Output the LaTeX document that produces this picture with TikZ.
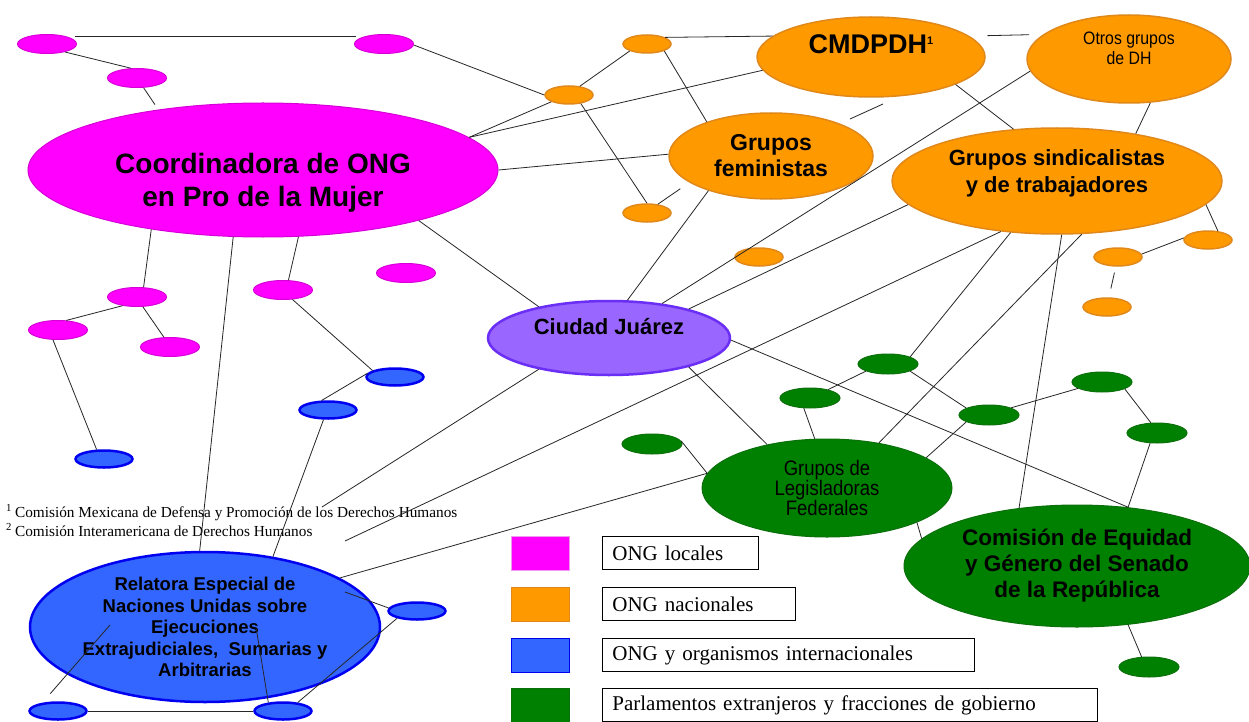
\documentclass[tikz,border=0pt]{standalone}
\usepackage{fontspec}
\setmainfont{Liberation Serif}
\setsansfont{Liberation Sans}
\newfontfamily\narrowfont[FakeStretch=0.88]{Liberation Sans}
\usetikzlibrary{shapes.geometric}
\begin{document}
\begin{tikzpicture}[x=1pt, y=-1pt, every node/.style={inner sep=0pt},
    loc/.style={ellipse, draw=locline, fill=loccol, line width=1pt},
    nac/.style={ellipse, draw=nacline, fill=naccol, line width=1.5pt},
    intl/.style={ellipse, draw=intline, fill=intcol, line width=2.5pt},
    parl/.style={ellipse, draw=parlline, fill=parlcol, line width=1pt},
    locsm/.style={loc, minimum width=59pt, minimum height=19pt},
    nacsm/.style={nac, minimum width=48pt, minimum height=18pt},
    intsm/.style={intl, minimum width=57pt, minimum height=17pt},
    parlsm/.style={parl, minimum width=60pt, minimum height=20pt},
    boldtxt/.style={font=\sffamily\bfseries, align=center},
    thintxt/.style={font=\narrowfont, align=center},
    fnote/.style={anchor=base west, font=\fontsize{15.3}{18}\selectfont},
    key/.style={draw, line width=0.8pt, minimum width=58pt, minimum height=34pt},
    keybox/.style={draw, line width=0.8pt, fill=white, anchor=west, minimum height=33pt,
      inner xsep=10pt, align=left, font=\fontsize{21}{24}\selectfont}]
  \definecolor{loccol}{HTML}{FF00FF}
  \definecolor{locline}{HTML}{D600D6}
  \definecolor{naccol}{HTML}{FF9900}
  \definecolor{nacline}{HTML}{E0881A}
  \definecolor{intcol}{HTML}{3366FF}
  \definecolor{intline}{HTML}{0000F0}
  \definecolor{cjcol}{HTML}{9966FF}
  \definecolor{cjline}{HTML}{6A2EF5}
  \definecolor{parlcol}{HTML}{008000}
  \definecolor{parlline}{HTML}{0B700B}
  \useasboundingbox[fill=white] (0,0) rectangle (1249,722);

  % ONG locales
  \node[locsm] (m1) at (47,44) {};
  \node[locsm] (m2) at (384,44) {};
  \node[locsm] (m3) at (137,78) {};
  \node[locsm] (m4) at (137,297) {};
  \node[locsm] (m5) at (58,330) {};
  \node[locsm] (m6) at (170,347) {};
  \node[locsm] (m7) at (283,290) {};
  \node[locsm] (m8) at (406,273) {};
  \node[loc, minimum width=470pt, minimum height=134pt] (coord) at (263,170) {};
  \node[boldtxt, font=\sffamily\bfseries\fontsize{28}{33}\selectfont, yshift=-13pt] (coord-t) at (coord)
    {Coordinadora de ONG\\en Pro de la Mujer};

  % ONG nacionales
  \node[nacsm] (o1) at (647,44) {};
  \node[nacsm] (o2) at (569,95) {};
  \node[nacsm] (o3) at (647,213) {};
  \node[nacsm] (o4) at (759,257) {};
  \node[nacsm] (o5) at (1208,240) {};
  \node[nacsm] (o6) at (1118,257) {};
  \node[nacsm] (o7) at (1107,307) {};
  \node[nac, minimum width=228pt, minimum height=80pt] (cmd) at (871,57) {};
  \node[boldtxt, font=\sffamily\bfseries\fontsize{27}{30}\selectfont, yshift=13pt] (cmd-t) at (cmd)
    {CMDPDH\raisebox{9pt}{\fontsize{11}{11}\selectfont 1}};
  \node[nac, minimum width=204pt, minimum height=88pt] (otros) at (1129,59) {};
  \node[thintxt, font=\narrowfont\fontsize{18}{20}\selectfont, yshift=11pt] (otros-t) at (otros)
    {Otros grupos\\de DH};
  \node[nac, minimum width=204pt, minimum height=86pt] (fem) at (771,156) {};
  \node[boldtxt, font=\sffamily\bfseries\fontsize{23}{26}\selectfont] (fem-t) at (fem)
    {Grupos\\feministas};
  \node[nac, minimum width=330pt, minimum height=106pt] (sind) at (1057,181) {};
  \node[boldtxt, font=\sffamily\bfseries\fontsize{22}{27}\selectfont, yshift=8pt] (sind-t) at (sind)
    {Grupos sindicalistas\\y de trabajadores};

  % Ciudad Juarez
  \node[ellipse, draw=cjline, fill=cjcol, line width=2.5pt, minimum width=242pt, minimum height=74pt] (cj) at (609,338) {};
  \node[boldtxt, font=\sffamily\bfseries\fontsize{22}{26}\selectfont, yshift=11pt] (cj-t) at (cj)
    {Ciudad Juárez};

  % ONG y organismos internacionales
  \node[intsm] (b1) at (104,459) {};
  \node[intsm] (b2) at (395,377) {};
  \node[intsm] (b3) at (328,410) {};
  \node[intsm] (b4) at (417,611) {};
  \node[intsm] (b5) at (58,711) {};
  \node[intsm] (b6) at (283,711) {};
  \node[intl, minimum width=350pt, minimum height=150pt] (rel) at (205,627) {};
  \node[boldtxt, font=\sffamily\bfseries\fontsize{18.5}{21.5}\selectfont] (rel-t) at (rel)
    {Relatora Especial de\\Naciones Unidas sobre\\Ejecuciones\\Extrajudiciales,\ \ Sumarias y\\Arbitrarias};

  % Parlamentos
  \node[parlsm] (g1) at (888,364) {};
  \node[parlsm] (g2) at (810,398) {};
  \node[parlsm] (g3) at (652,444) {};
  \node[parlsm] (g4) at (989,415) {};
  \node[parlsm] (g5) at (1102,382) {};
  \node[parlsm] (g6) at (1157,433) {};
  \node[parlsm] (g7) at (1149,667) {};
  \node[parl, minimum width=250pt, minimum height=98pt] (legis) at (827,488) {};
  \node[thintxt, font=\narrowfont\fontsize{21}{20}\selectfont] (legis-t) at (legis)
    {Grupos de\\Legisladoras\\Federales};
  \node[parl, minimum width=346pt, minimum height=122pt] (com) at (1077,566) {};
  \node[boldtxt, font=\sffamily\bfseries\fontsize{22.5}{26}\selectfont] (com-t) at (com)
    {Comisión de Equidad\\y Género del Senado\\de la República};

  % notas
  \node[fnote] (fn1) at (6,517) {\textsuperscript{1}\hspace{3pt}Comisión Mexicana de Defensa y Promoción de los Derechos Humanos};
  \node[fnote] (fn2) at (6,536) {\textsuperscript{2}\hspace{3pt}Comisión Interamericana de Derechos Humanos};

  % clave
  \node[key, fill=loccol, draw=locline!40] (k1) at (540,553) {};
  \node[key, fill=naccol, draw=nacline] (k2) at (540,604) {};
  \node[key, fill=intcol, draw=intline] (k3) at (540,655) {};
  \node[key, fill=parlcol, draw=parlline] (k4) at (540,705) {};
  \node[keybox, text width=136pt] (k1-t) at (602,553) {ONG locales};
  \node[keybox, text width=173pt] (k2-t) at (602,604) {ONG nacionales};
  \node[keybox, text width=352pt] (k3-t) at (602,655) {ONG y organismos internacionales};
  \node[keybox, text width=475pt] (k4-t) at (602,705) {Parlamentos extranjeros y fracciones de gobierno};

  \coordinate (fc1) at (322,507);
  \coordinate (fc2) at (345,541);
  \coordinate (fa) at (850,119);
  \coordinate (fb) at (883,104);
  \coordinate (r1) at (345,592);
  \coordinate (r2) at (256,627);
  \coordinate (r3) at (110,625);

  \begin{scope}[black!85, line width=0.8pt]
    \draw[shorten <=10pt, shorten >=10pt] (m1.24) -- (m2.156);
    \draw (m1.-24) -- (m3.122);
    \draw[shorten >=6pt] (m3.-56) -- (coord.150);
    \draw (m2.-2) -- (o2.180);
    \draw (coord.9) -- (o2.201);
    \draw (coord.9) -- (cmd.187);
    \draw (coord.0) -- (fem.179);
    \draw (coord.-18) -- (cj.156);
    \draw (coord.208) -- (m4.56);
    \draw (coord.246) -- (rel.94);
    \draw (coord.-62) -- (m7.61);
    \draw (m4.211) -- (m5.49);
    \draw (m4.-59) -- (m6.122);
    \draw (m5.243) -- (b1.128);
    \draw (m7.-45) -- (b2.164);
    \draw (b2.172) -- (b3.124);
    \draw (b3.245) -- (rel.46);
    \draw (cj.204) -- (fc1);
    \draw (sind.222) -- (fc2);
    \draw (legis.173) -- (rel.20);
    \draw (g3.6) -- (legis.173);
    \draw (fem.209) -- (cj.64);
    \draw (otros.187) -- (cj.33);
    \draw (sind.189) -- (cj.20);
    \draw (cj.-1) -- (com.49);
    \draw (cj.-20) -- (legis.144);
    \draw (g2.239) -- (legis.104);
    \draw (g2.25) -- (g1.198);
    \draw (sind.228) -- (g1.18);
    \draw (g1.-18) -- (g4.163);
    \draw (sind.-65) -- (legis.41);
    \draw (g4.197) -- (legis.17);
    \draw (sind.-85) -- (com.135);
    \draw (g4.18) -- (g5.195);
    \draw (g5.-17) -- (g6.121);
    \draw (g6.236) -- (com.49);
    \draw (legis.-21) -- (com.170);
    \draw (com.-49) -- (g7.126);
    \draw (sind.-9) -- (o5.42);
    \draw (o6.7) -- (o5.175);
    \draw[shorten <=6pt, shorten >=9pt] (o6.257) -- (o7.79);
    \draw (otros.-64) -- (sind.31);
    \draw (cmd.-18) -- (sind.130);
    \draw[shorten <=18pt, shorten >=14pt] (cmd.12) -- (otros.164);
    \draw (o1.20) -- (cmd.168);
    \draw (o1.202) -- (o2.39);
    \draw (o2.-36) -- (o3.90);
    \draw (o1.-22) -- (fem.152);
    \draw[shorten >=11pt] (o3.39) -- (fem.198);
    \draw (fa) -- (fb);
    \draw (b4.174) -- (r1);
    \draw (b4.200) -- (b6.30);
    \draw (b5) -- (b6);
    \draw (r2) -- (b6.150);
    \draw[shorten <=12pt] (b5.152) -- (r3);
  \end{scope}
\end{tikzpicture}
\end{document}
